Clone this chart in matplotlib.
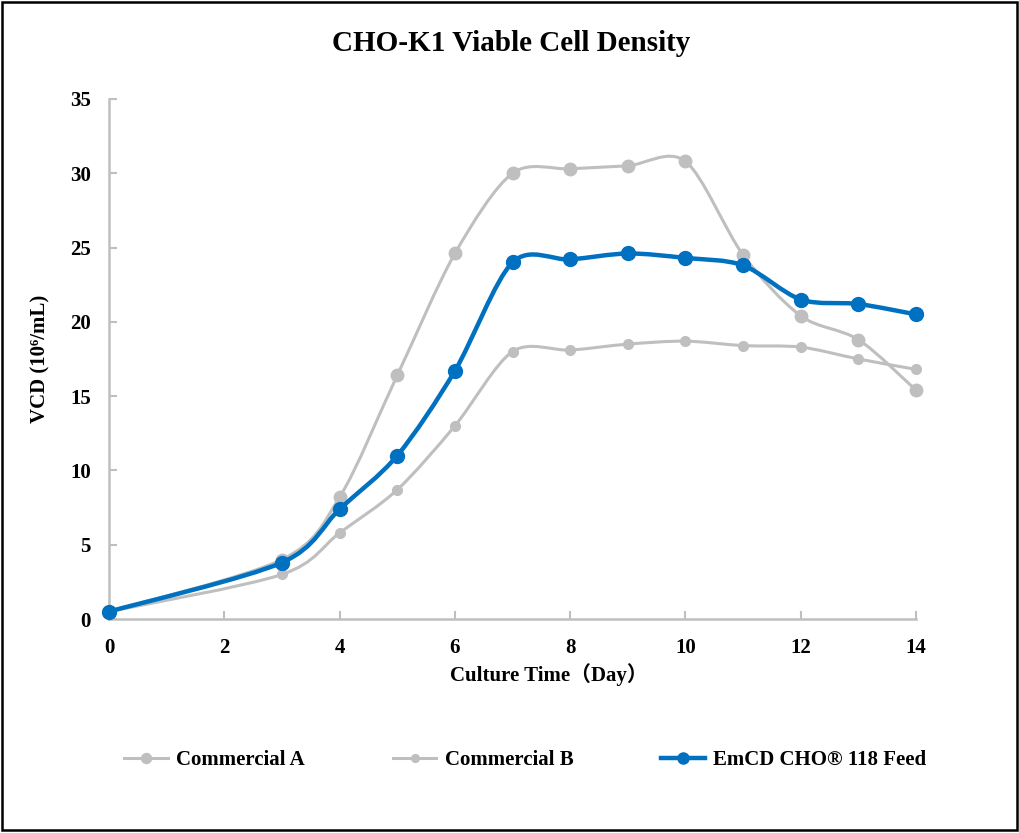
import numpy as np
import matplotlib.pyplot as plt
from matplotlib.path import Path
from matplotlib.patches import PathPatch, Rectangle
from matplotlib.lines import Line2D

plt.rcParams['font.family'] = ['Liberation Serif', 'Noto Sans CJK SC']
plt.rcParams['font.weight'] = 'bold'

# Data
days = [0, 3, 4, 5, 6, 7, 8, 9, 10, 11, 12, 13, 14]
commercial_a = [0.5, 4.0, 8.2, 16.4, 24.6, 30.0, 30.3, 30.5, 30.8, 24.5, 20.4, 18.8, 15.4]
commercial_b = [0.5, 3.0, 5.8, 8.7, 13.0, 18.0, 18.1, 18.5, 18.7, 18.4, 18.3, 17.5, 16.8]
emcd_feed = [0.5, 3.8, 7.4, 11.0, 16.7, 24.0, 24.2, 24.6, 24.3, 23.8, 21.5, 21.2, 20.5]

names = ['Commercial A', 'Commercial B', 'EmCD CHO® 118 Feed']
gray = '#BFBFBF'
blue = '#0070C0'


def smooth_path(x, y, k=0.15):
    # Excel-like smoothed line: cubic Bezier segments through the points
    pts = np.column_stack([x, y]).astype(float)
    n = len(pts)
    verts = [pts[0]]
    codes = [Path.MOVETO]
    for i in range(n - 1):
        p0 = pts[i - 1] if i > 0 else pts[i]
        p1 = pts[i]
        p2 = pts[i + 1]
        p3 = pts[i + 2] if i + 2 < n else pts[i + 1]
        c1 = p1 + (p2 - p0) * k
        c2 = p2 - (p3 - p1) * k
        verts += [c1, c2, p2]
        codes += [Path.CURVE4] * 3
    return Path(verts, codes)


fig = plt.figure(figsize=(10.2, 8.33), dpi=100)
ax = fig.add_axes([0.1069, 0.2569, 0.7912, 0.6243])

series = [
    (commercial_a, gray, 2.2, 9),
    (commercial_b, gray, 2.2, 7),
    (emcd_feed, blue, 3.2, 10),
]
handles = []
for vals, col, lw, ms in series:
    ax.add_patch(PathPatch(smooth_path(days, vals), facecolor='none',
                           edgecolor=col, lw=lw, zorder=3 if col == blue else 2))
    ax.plot(days, vals, linestyle='none', marker='o', color=col,
            markersize=ms, zorder=4 if col == blue else 2, clip_on=False)
    handles.append(Line2D([], [], color=col, lw=lw, marker='o', markersize=ms * 0.8))

ax.set_xlim(0, 14)
ax.set_ylim(0, 35)
ax.set_xticks(np.arange(0, 15, 2))
ax.set_yticks(np.arange(0, 36, 5))

for s in ['top', 'right']:
    ax.spines[s].set_visible(False)
for s in ['left', 'bottom']:
    ax.spines[s].set_color(gray)
    ax.spines[s].set_linewidth(1.8)
ax.tick_params(direction='in', length=6, width=1.5, color=gray,
               labelsize=15, pad=13)
ax.tick_params(axis='x', pad=14)
for lbl in ax.get_xticklabels() + ax.get_yticklabels():
    lbl.set_fontweight('bold')

ax.set_xlabel('Culture Time（Day）', fontsize=15, fontweight='bold')
ax.xaxis.set_label_coords(0.545, -0.085)
ax.set_ylabel('VCD (10⁶/mL)', fontsize=15, fontweight='bold', labelpad=14)
fig.text(0.5015, 0.948, 'CHO-K1 Viable Cell Density', ha='center', va='center',
         fontsize=21, fontweight='bold')

fig.legend(handles, names, loc='center', bbox_to_anchor=(0.515, 0.0876),
           ncol=3, frameon=False, fontsize=15, handlelength=2.1,
           handletextpad=0.4, columnspacing=4.2)

# outer frame
fig.patches.append(Rectangle((0.0015, 0.0035), 0.996, 0.994, transform=fig.transFigure,
                             fill=False, edgecolor='black', lw=1.8))

fig.savefig('out.png', dpi=100)
